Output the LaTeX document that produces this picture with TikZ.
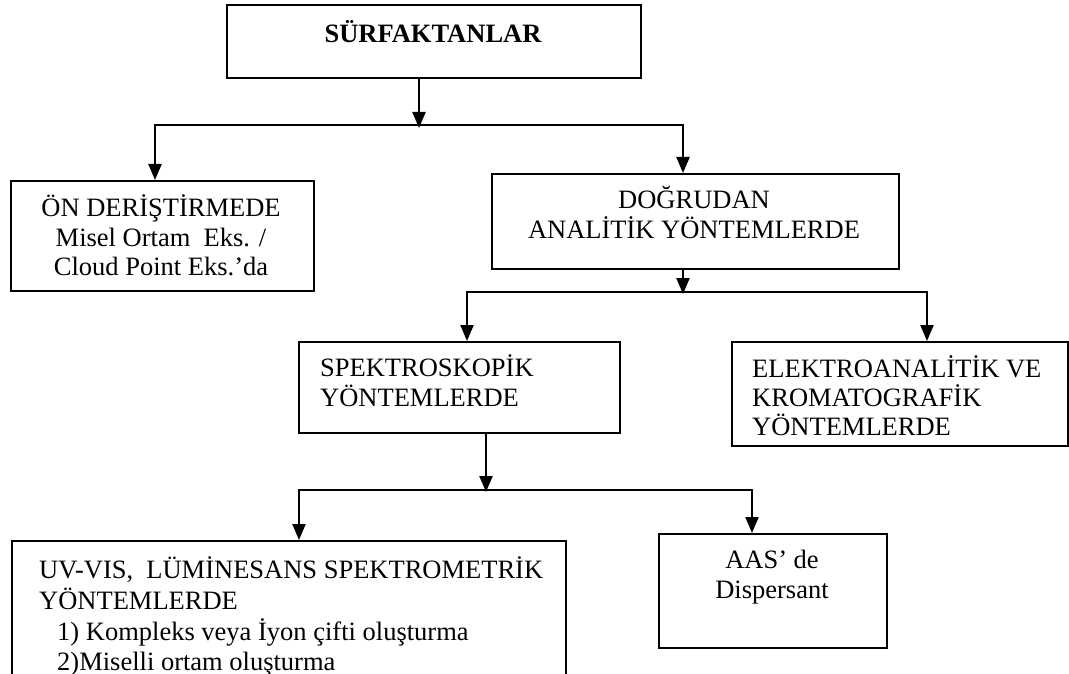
\documentclass[tikz,border=0pt]{standalone}
\usepackage{fontspec}
\setmainfont{Liberation Serif}
\usetikzlibrary{arrows.meta}
\begin{document}
\begin{tikzpicture}[x=1pt,y=-1pt,
  box/.style={draw, line width=1.9pt, inner sep=0pt, anchor=north west},
  lab/.style={inner sep=0pt, font=\fontsize{26.5}{30}\selectfont},
  labc/.style={lab, anchor=base},
  labl/.style={lab, anchor=base west},
  con/.style={line width=2.3pt},
  arr/.style={con, -{Triangle[length=16pt,width=13pt]}}]
\useasboundingbox (0,0) rectangle (1069,674);
\clip (0,0) rectangle (1069,674);
\fill[white] (0,0) rectangle (1069,674);

% boxes
\node[box, minimum width=414pt, minimum height=73pt] (top) at (226,4) {};
\node[box, minimum width=303pt, minimum height=110pt] (on) at (10,180) {};
\node[box, minimum width=407pt, minimum height=95pt] (dog) at (491,173) {};
\node[box, minimum width=321pt, minimum height=91pt] (spek) at (298,341) {};
\node[box, minimum width=336pt, minimum height=104pt] (elek) at (731,341) {};
\node[box, minimum width=554pt, minimum height=160pt] (uv) at (11,540) {};
\node[box, minimum width=228pt, minimum height=114pt] (aas) at (658,533) {};

% texts
\node[labc, font=\fontsize{26.5}{30}\selectfont\bfseries] (t1) at (433,43) {SÜRFAKTANLAR};

\node[labc] (o1) at (161,217) {ÖN DERİŞTİRMEDE};
\node[labc] (o2) at (161,246) {Misel Ortam\ \ Eks. /};
\node[labc] (o3) at (161,275) {Cloud Point Eks.’da};

\node[labc] (d1) at (694,208) {DOĞRUDAN};
\node[labc] (d2) at (694,238) {ANALİTİK YÖNTEMLERDE};

\node[labl] (s1) at (320,376) {SPEKTROSKOPİK};
\node[labl] (s2) at (320,406) {YÖNTEMLERDE};

\node[labl] (e1) at (752,377) {ELEKTROANALİTİK VE};
\node[labl] (e2) at (752,406) {KROMATOGRAFİK};
\node[labl] (e3) at (752,435) {YÖNTEMLERDE};

\node[labl] (u1) at (39,578) {UV-VIS,\ \ LÜMİNESANS SPEKTROMETRİK};
\node[labl] (u2) at (39,609) {YÖNTEMLERDE};
\node[labl] (u3) at (57,640) {1) Kompleks veya İyon çifti oluşturma};
\node[labl] (u4) at (57,670) {2)Miselli ortam oluşturma};

\node[labc] (a1) at (772,568) {AAS’ de};
\node[labc] (a2) at (772,598) {Dispersant};

% connectors, level 1
\coordinate (j1) at (419,128);
\coordinate (h1l) at (155,125);
\coordinate (h1r) at (683,125);
\draw[arr] (top.south -| j1) -- (j1);
\draw[arr] (h1r) -- (h1l) -- (h1l |- on.north);
\draw[arr] (h1l) -- (h1r) -- (h1r |- dog.north);

% level 2
\coordinate (j2) at (683,294);
\coordinate (h2l) at (467,292);
\coordinate (h2r) at (927,292);
\draw[arr] (dog.south -| j2) -- (j2);
\draw[arr] (h2r) -- (h2l) -- (h2l |- spek.north);
\draw[arr] (h2l) -- (h2r) -- (h2r |- elek.north);

% level 3
\coordinate (j3) at (486,492);
\coordinate (h3l) at (299,490);
\coordinate (h3r) at (752,490);
\draw[arr] (spek.south -| j3) -- (j3);
\draw[arr] (h3r) -- (h3l) -- (h3l |- uv.north);
\draw[arr] (h3l) -- (h3r) -- (h3r |- aas.north);
\end{tikzpicture}
\end{document}
